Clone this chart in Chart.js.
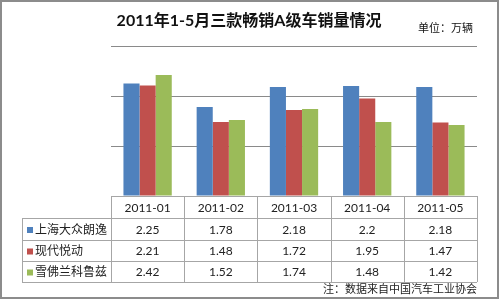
<!DOCTYPE html>
<html>
<head>
<meta charset="utf-8">
<script src="https://cdn.jsdelivr.net/npm/chart.js@4"></script>
<style>
  html, body { margin: 0; padding: 0; background: #fff; }
  #wrap { width: 500px; height: 300px; }
</style>
</head>
<body>
<div id="wrap"><canvas id="salesChart" width="500" height="300"></canvas></div>
<script>
// 2011年1-5月 A级车销量 (万辆)
const months = ['2011-01', '2011-02', '2011-03', '2011-04', '2011-05'];
const seriesNames = ['上海大众朗逸', '现代悦动', '雪佛兰科鲁兹'];
const lavida = [2.25, 1.78, 2.18, 2.2, 2.18];
const elantra = [2.21, 1.48, 1.72, 1.95, 1.47];
const cruze = [2.42, 1.52, 1.74, 1.48, 1.42];
const yTicks = [0, 1, 2, 3];

const chartTitle = '2011年1-5月三款畅销A级车销量情况';
const unitText = '单位：万辆';
const sourceNote = '注：数据来自中国汽车工业协会';

const colors = ['#4F81BD', '#C0504D', '#9BBB59'];
const fontStack = "Lato, 'Noto Sans CJK SC', sans-serif";

/**
 * Draw title, data table and frame around the chart
 */
const tablePlugin = {
  id: 'dataTable',
  afterDraw(chart) {
    const ctx = chart.ctx;
    const area = chart.chartArea;
    const xScale = chart.scales.x;
    const colW = (area.right - area.left) / months.length;
    const rowTop = area.bottom;
    const rowH = [22, 22, 21, 21];
    const labelLeft = 22;

    ctx.save();

    // outer frame
    ctx.strokeStyle = '#8c8c8c';
    ctx.lineWidth = 2;
    ctx.strokeRect(1, 1, 497, 297);

    // title + unit
    ctx.fillStyle = '#111';
    ctx.textAlign = 'center';
    ctx.textBaseline = 'middle';
    ctx.font = 'bold 16px ' + fontStack;
    ctx.fillText(chartTitle, 249, 21);
    ctx.font = '11px ' + fontStack;
    ctx.textAlign = 'right';
    ctx.fillText(unitText, 473, 28);

    // table lines
    ctx.strokeStyle = '#a6a6a6';
    ctx.lineWidth = 1;
    let y = rowTop;
    const rowY = [y];
    rowH.forEach(h => { y += h; rowY.push(y); });

    ctx.beginPath();
    rowY.forEach((ry, i) => {
      const x0 = i === 0 ? area.left : labelLeft;
      ctx.moveTo(x0, Math.round(ry) + 0.5);
      ctx.lineTo(area.right, Math.round(ry) + 0.5);
    });
    for (let i = 0; i <= months.length; i++) {
      const x = Math.round(area.left + i * colW) + 0.5;
      ctx.moveTo(x, rowY[0]);
      ctx.lineTo(x, rowY[rowY.length - 1]);
    }
    ctx.moveTo(labelLeft + 0.5, rowY[1]);
    ctx.lineTo(labelLeft + 0.5, rowY[rowY.length - 1]);
    ctx.stroke();

    // header row
    ctx.fillStyle = '#222';
    ctx.font = '12px ' + fontStack;
    ctx.textAlign = 'center';
    months.forEach((m, i) => {
      ctx.fillText(m, xScale.getPixelForValue(i), (rowY[0] + rowY[1]) / 2 + 1);
    });

    // data rows
    chart.data.datasets.forEach((ds, r) => {
      const cy = (rowY[r + 1] + rowY[r + 2]) / 2 + 1;
      ctx.fillStyle = ds.backgroundColor;
      ctx.fillRect(labelLeft + 5, cy - 3, 6, 6);
      ctx.fillStyle = '#222';
      ctx.textAlign = 'left';
      ctx.fillText(ds.label, labelLeft + 13, cy);
      ctx.textAlign = 'center';
      ds.data.forEach((v, i) => {
        ctx.fillText(String(v), xScale.getPixelForValue(i), cy);
      });
    });

    // source note
    ctx.font = '11px ' + fontStack;
    ctx.textAlign = 'right';
    ctx.fillText(sourceNote, area.right, 289);

    ctx.restore();
  }
};

const ctx = document.getElementById('salesChart');

new Chart(ctx, {
  type: 'bar',
  data: {
    labels: months,
    datasets: [
      { label: seriesNames[0], data: lavida, backgroundColor: colors[0] },
      { label: seriesNames[1], data: elantra, backgroundColor: colors[1] },
      { label: seriesNames[2], data: cruze, backgroundColor: colors[2] }
    ]
  },
  options: {
    responsive: false,
    animation: false,
    datasets: {
      bar: { categoryPercentage: 0.66, barPercentage: 1, borderWidth: 0 }
    },
    layout: {
      padding: { left: 111, right: 23, top: 46, bottom: 104 }
    },
    plugins: {
      legend: { display: false },
      title: { display: false },
      tooltip: { enabled: false }
    },
    scales: {
      x: { display: false },
      y: {
        min: yTicks[0],
        max: yTicks[yTicks.length - 1],
        afterBuildTicks: axis => { axis.ticks = yTicks.map(v => ({ value: v })); },
        ticks: { display: false },
        border: { display: false },
        grid: { color: '#8a8a8a', drawTicks: false, lineWidth: 1 }
      }
    }
  },
  plugins: [tablePlugin]
});
</script>
</body>
</html>
